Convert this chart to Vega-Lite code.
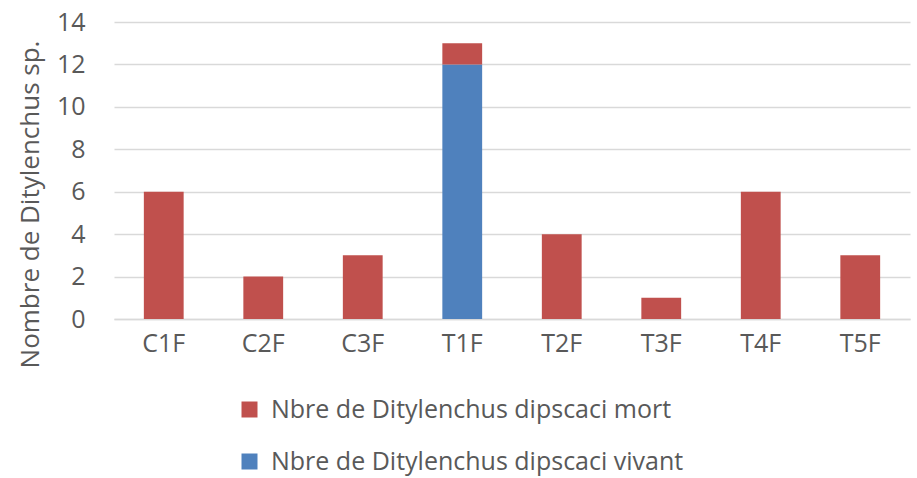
{
  "$schema": "https://vega.github.io/schema/vega-lite/v6.json",
  "width": 796,
  "height": 297,
  "autosize": {"type": "none"},
  "padding": {"left": 114, "top": 22, "right": 7, "bottom": 159},
  "background": "white",
  "config": {
    "font": "Open Sans",
    "view": {"stroke": null}
  },
  "data": {
    "values": [
      {"site": "C1F", "type": "Nbre de Ditylenchus dipscaci mort", "n": 6},
      {"site": "C2F", "type": "Nbre de Ditylenchus dipscaci mort", "n": 2},
      {"site": "C3F", "type": "Nbre de Ditylenchus dipscaci mort", "n": 3},
      {"site": "T1F", "type": "Nbre de Ditylenchus dipscaci vivant", "n": 12},
      {"site": "T1F", "type": "Nbre de Ditylenchus dipscaci mort", "n": 1},
      {"site": "T2F", "type": "Nbre de Ditylenchus dipscaci mort", "n": 4},
      {"site": "T3F", "type": "Nbre de Ditylenchus dipscaci mort", "n": 1},
      {"site": "T4F", "type": "Nbre de Ditylenchus dipscaci mort", "n": 6},
      {"site": "T5F", "type": "Nbre de Ditylenchus dipscaci mort", "n": 3}
    ]
  },
  "mark": {"type": "bar"},
  "encoding": {
    "x": {
      "field": "site",
      "type": "nominal",
      "sort": null,
      "scale": {"paddingInner": 0.6, "paddingOuter": 0.3},
      "axis": {
        "title": null,
        "labelAngle": 0,
        "labelFontSize": 25,
        "labelColor": "#595959",
        "labelPadding": 12,
        "ticks": false,
        "domainColor": "#d9d9d9",
        "domainWidth": 1.5
      }
    },
    "y": {
      "field": "n",
      "type": "quantitative",
      "stack": "zero",
      "scale": {"domain": [0, 14], "nice": false},
      "axis": {
        "values": [0, 2, 4, 6, 8, 10, 12, 14],
        "title": "Nombre de Ditylenchus sp.",
        "titleFontSize": 26,
        "titleFontWeight": "normal",
        "titleColor": "#595959",
        "titleX": -84,
        "titleY": 182,
        "titleAngle": -90,
        "titleAlign": "center",
        "titleBaseline": "middle",
        "labelFontSize": 25,
        "labelColor": "#595959",
        "labelPadding": 29,
        "ticks": false,
        "domain": false,
        "grid": true,
        "gridColor": "#d9d9d9",
        "gridWidth": 1.5
      }
    },
    "color": {
      "field": "type",
      "type": "nominal",
      "scale": {
        "domain": ["Nbre de Ditylenchus dipscaci mort", "Nbre de Ditylenchus dipscaci vivant"],
        "range": ["#C0504D", "#4F81BD"]
      },
      "legend": {
        "title": null,
        "orient": "none",
        "legendX": 123,
        "legendY": 375,
        "direction": "vertical",
        "symbolType": "square",
        "symbolSize": 256,
        "symbolStrokeWidth": 0,
        "labelFontSize": 25,
        "labelColor": "#595959",
        "labelOffset": 9,
        "rowPadding": 26,
        "labelLimit": 700
      }
    },
    "order": {"field": "type", "sort": "descending"}
  }
}
